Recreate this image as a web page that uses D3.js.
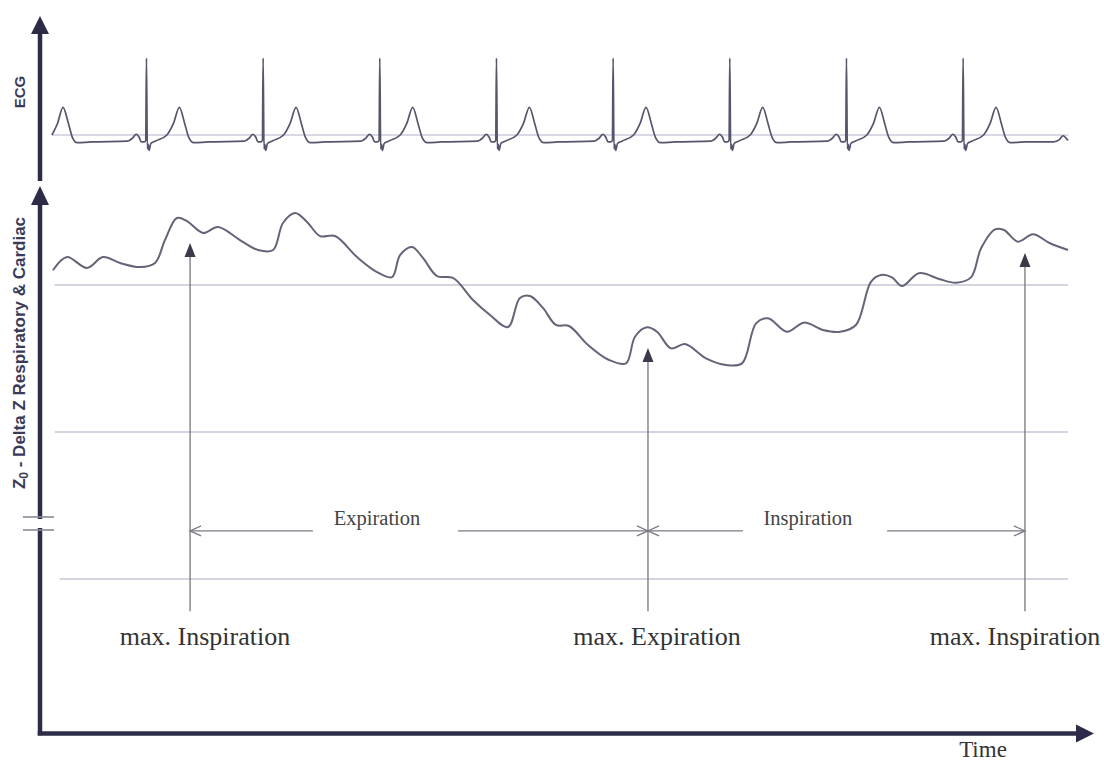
<!DOCTYPE html>
<html>
<head>
<meta charset="utf-8">
<script src="https://cdn.jsdelivr.net/npm/d3@7/dist/d3.min.js"></script>
<style>
  html, body { margin: 0; padding: 0; background: #fff; }
  svg { display: block; }
</style>
</head>
<body>
<svg id="chart" width="1104" height="763"></svg>
<script>
// ---------------- DATA ----------------
// ECG trace: [time in ms, amplitude in mV]
const ecgSamples = [
  [82,0.0],[120,0.15],[158,0.36],[195,0.15],[222,-0.03],[255,-0.10],[350,-0.09],
  [600,-0.08],[635,-0.04],[660,0.01],[680,-0.03],[695,-0.09],[715,-0.09],[725,-0.07],[730,1.0],[736,-0.18],[742,-0.12],[748,-0.2],[760,-0.11],[790,-0.08],[870,0.0],[915,0.15],[956,0.36],[992,0.15],[1020,-0.03],[1055,-0.10],[1150,-0.09],
  [1400,-0.08],[1435,-0.04],[1460,0.01],[1480,-0.03],[1495,-0.09],[1515,-0.09],[1525,-0.07],[1530,1.0],[1536,-0.18],[1542,-0.12],[1548,-0.2],[1560,-0.11],[1590,-0.08],[1670,0.0],[1715,0.15],[1756,0.36],[1792,0.15],[1820,-0.03],[1855,-0.10],[1950,-0.09],
  [2200,-0.08],[2235,-0.04],[2260,0.01],[2280,-0.03],[2295,-0.09],[2315,-0.09],[2325,-0.07],[2330,1.0],[2336,-0.18],[2342,-0.12],[2348,-0.2],[2360,-0.11],[2390,-0.08],[2470,0.0],[2515,0.15],[2556,0.36],[2592,0.15],[2620,-0.03],[2655,-0.10],[2750,-0.09],
  [3000,-0.08],[3035,-0.04],[3060,0.01],[3080,-0.03],[3095,-0.09],[3115,-0.09],[3125,-0.07],[3130,1.0],[3136,-0.18],[3142,-0.12],[3148,-0.2],[3160,-0.11],[3190,-0.08],[3270,0.0],[3315,0.15],[3356,0.36],[3392,0.15],[3420,-0.03],[3455,-0.10],[3550,-0.09],
  [3800,-0.08],[3835,-0.04],[3860,0.01],[3880,-0.03],[3895,-0.09],[3915,-0.09],[3925,-0.07],[3930,1.0],[3936,-0.18],[3942,-0.12],[3948,-0.2],[3960,-0.11],[3990,-0.08],[4070,0.0],[4115,0.15],[4156,0.36],[4192,0.15],[4220,-0.03],[4255,-0.10],[4350,-0.09],
  [4600,-0.08],[4635,-0.04],[4660,0.01],[4680,-0.03],[4695,-0.09],[4715,-0.09],[4725,-0.07],[4730,1.0],[4736,-0.18],[4742,-0.12],[4748,-0.2],[4760,-0.11],[4790,-0.08],[4870,0.0],[4915,0.15],[4956,0.36],[4992,0.15],[5020,-0.03],[5055,-0.10],[5150,-0.09],
  [5400,-0.08],[5435,-0.04],[5460,0.01],[5480,-0.03],[5495,-0.09],[5515,-0.09],[5525,-0.07],[5530,1.0],[5536,-0.18],[5542,-0.12],[5548,-0.2],[5560,-0.11],[5590,-0.08],[5670,0.0],[5715,0.15],[5756,0.36],[5792,0.15],[5820,-0.03],[5855,-0.10],[5950,-0.09],
  [6200,-0.08],[6235,-0.04],[6260,0.01],[6280,-0.03],[6295,-0.09],[6315,-0.09],[6325,-0.07],[6330,1.0],[6336,-0.18],[6342,-0.12],[6348,-0.2],[6360,-0.11],[6390,-0.08],[6470,0.0],[6515,0.15],[6556,0.36],[6592,0.15],[6620,-0.03],[6655,-0.10],[6750,-0.09],
  [6950,-0.09],[6990,-0.06],[7015,-0.01],[7040,-0.05],[7050,-0.07]
];
const ecgBaselineSpan = [82, 7050];

// Z0 - Delta Z respiratory & cardiac trace (time ms, arbitrary units)
const zTimes  = [89,185,322,432,549,686,789,857,939,1008,1118,1221,1371,1495,1598,1666,1749,1831,1920,2023,2174,2311,2414,2469,2551,2626,2722,2832,2969,3086,3209,3291,3360,3449,3538,3627,3758,3902,4018,4080,4162,4231,4327,4423,4567,4704,4814,4910,4992,5122,5239,5369,5486,5595,5698,5767,5842,5911,6027,6171,6281,6384,6453,6549,6610,6706,6809,6926,7049];
const zValues = [10,19,11.6,19,15,12.2,15,30.6,45.6,43.5,35.4,39.5,30.6,23.8,23.8,42.2,49,42.9,33.3,33.3,19,8.8,5.4,20.4,25.9,18.4,6.1,4.8,-10.2,-20.4,-28.6,-8.8,-7.5,-15.6,-27.2,-27.9,-40.8,-51,-53.3,-35.2,-28.8,-31.8,-43.1,-40.1,-49.9,-54.4,-53.3,-26.1,-22.7,-31.8,-25.6,-30.6,-31.8,-27.2,2.2,6.8,5.2,-0.7,8,3.9,1.6,5.2,25,37.9,37.4,29.5,34.5,28.4,23.8];

// reference lines of the Z panel
const zGridLevels = [0, -100, -200];
const zGridSpan = [100, 7049];

// respiratory markers
const markerTimes  = [1029, 4169, 6754];
const markerTipZ   = [28.6, -42.9, 21.8];
const markerLabels = ["max. Inspiration", "max. Expiration", "max. Inspiration"];
const markerLabelTimes = [1131, 4231, 6686];
const markerBottomZ = -222;

// phase arrows between markers
const phaseLabels     = ["Expiration", "Inspiration"];
const phaseLabelTimes = [2311, 5266];
const phaseGapTimes   = [[1872, 2866], [4820, 5808]];
const phaseZ = -167.3;

// ---------------- DRAWING ----------------
const svg = d3.select("#chart");
const axisColor = "#2c2c48";

const x = d3.scaleLinear().domain([0, 7200]).range([40, 1090]);
const yEcg = d3.scaleLinear().domain([0, 1]).range([135, 58]);
const yZ = d3.scaleLinear().domain([0, -200]).range([285, 579]);

// ECG baseline
svg.append("line")
  .attr("x1", x(ecgBaselineSpan[0])).attr("x2", x(ecgBaselineSpan[1]))
  .attr("y1", yEcg(0)).attr("y2", yEcg(0))
  .attr("stroke", "#b4b4c8").attr("stroke-width", 1.2);

// ECG trace
svg.append("path")
  .datum(ecgSamples)
  .attr("fill", "none")
  .attr("stroke", "#55556c")
  .attr("stroke-width", 1.7)
  .attr("stroke-linejoin", "round")
  .attr("d", d3.line().x(d => x(d[0])).y(d => yEcg(d[1])).curve(d3.curveMonotoneX));

// Z grid lines
svg.selectAll("line.zgrid")
  .data(zGridLevels)
  .join("line")
  .attr("class", "zgrid")
  .attr("x1", (d, i) => x(zGridSpan[0]) - (i === 2 ? -5 : 0))
  .attr("x2", x(zGridSpan[1]))
  .attr("y1", d => yZ(d)).attr("y2", d => yZ(d))
  .attr("stroke", "#a9a9c2").attr("stroke-width", 1.2);

// Z trace
const zData = zTimes.map((t, i) => [t, zValues[i]]);
svg.append("path")
  .datum(zData)
  .attr("fill", "none")
  .attr("stroke", "#646478")
  .attr("stroke-width", 2)
  .attr("d", d3.line().x(d => x(d[0])).y(d => yZ(d[1])).curve(d3.curveCatmullRom.alpha(0.5)));

// markers (vertical arrows)
markerTimes.forEach((t, i) => {
  const mx = x(t), tip = yZ(markerTipZ[i]);
  svg.append("line")
    .attr("x1", mx).attr("x2", mx)
    .attr("y1", tip + 10).attr("y2", yZ(markerBottomZ))
    .attr("stroke", "#6a6a74").attr("stroke-width", 1.2);
  svg.append("path")
    .attr("d", `M${mx},${tip} L${mx - 5.5},${tip + 14} L${mx + 5.5},${tip + 14} Z`)
    .attr("fill", "#3a3a48");
  svg.append("text")
    .attr("x", x(markerLabelTimes[i])).attr("y", 645)
    .attr("text-anchor", "middle")
    .attr("font-family", "'Liberation Serif', 'Times New Roman', serif")
    .attr("font-size", 26)
    .attr("fill", "#333")
    .text(markerLabels[i]);
});

// phase arrows
const py = yZ(phaseZ);
phaseLabels.forEach((lab, i) => {
  const a = x(markerTimes[i]), b = x(markerTimes[i + 1]);
  const g1 = x(phaseGapTimes[i][0]), g2 = x(phaseGapTimes[i][1]);
  const st = "#7a7a86";
  svg.append("line").attr("x1", a).attr("x2", g1).attr("y1", py).attr("y2", py)
    .attr("stroke", st).attr("stroke-width", 1.2);
  svg.append("line").attr("x1", g2).attr("x2", b).attr("y1", py).attr("y2", py)
    .attr("stroke", st).attr("stroke-width", 1.2);
  // open arrow heads
  svg.append("path")
    .attr("d", `M${a + 11},${py - 5} L${a},${py} L${a + 11},${py + 5}`)
    .attr("fill", "none").attr("stroke", st).attr("stroke-width", 1.3);
  svg.append("path")
    .attr("d", `M${b - 11},${py - 5} L${b},${py} L${b - 11},${py + 5}`)
    .attr("fill", "none").attr("stroke", st).attr("stroke-width", 1.3);
  svg.append("text")
    .attr("x", x(phaseLabelTimes[i])).attr("y", py - 6)
    .attr("text-anchor", "middle")
    .attr("font-family", "'Liberation Serif', 'Times New Roman', serif")
    .attr("font-size", 20.5)
    .attr("fill", "#444")
    .text(lab);
});

// ---------------- AXES ----------------
const ax = 40;
// ECG axis
svg.append("line").attr("x1", ax).attr("x2", ax).attr("y1", 30).attr("y2", 181)
  .attr("stroke", axisColor).attr("stroke-width", 4.5);
svg.append("path").attr("d", `M${ax},16 L${ax - 9},34 L${ax + 9},34 Z`).attr("fill", axisColor);
// Z axis
svg.append("line").attr("x1", ax).attr("x2", ax).attr("y1", 202).attr("y2", 519)
  .attr("stroke", axisColor).attr("stroke-width", 4.5);
svg.append("path").attr("d", `M${ax},186 L${ax - 9},205 L${ax + 9},205 Z`).attr("fill", axisColor);
// lower part after break
svg.append("line").attr("x1", ax).attr("x2", ax).attr("y1", 528).attr("y2", 735.25)
  .attr("stroke", axisColor).attr("stroke-width", 4.5);
// break marks
[517, 530].forEach(by => {
  svg.append("line").attr("x1", 23).attr("x2", 54).attr("y1", by).attr("y2", by)
    .attr("stroke", "#8a8a98").attr("stroke-width", 1.6);
});
// time axis
svg.append("line").attr("x1", ax - 2.25).attr("x2", 1080).attr("y1", 733.5).attr("y2", 733.5)
  .attr("stroke", axisColor).attr("stroke-width", 4.5);
svg.append("path").attr("d", `M1094,733.5 L1076,724.5 L1076,742.5 Z`).attr("fill", axisColor);

// axis labels
svg.append("text")
  .attr("transform", "translate(24.5,92) rotate(-90)")
  .attr("text-anchor", "middle")
  .attr("font-family", "'Liberation Sans', Arial, sans-serif")
  .attr("font-weight", "bold")
  .attr("font-size", 15)
  .attr("fill", "#3a3a58")
  .text("ECG");

const zl = svg.append("text")
  .attr("transform", "translate(25,353) rotate(-90)")
  .attr("text-anchor", "middle")
  .attr("font-family", "'Liberation Sans', Arial, sans-serif")
  .attr("font-weight", "bold")
  .attr("font-size", 17)
  .attr("fill", "#3a3a58");
zl.append("tspan").text("Z");
zl.append("tspan").attr("font-size", 12).attr("dy", 3).text("0");
zl.append("tspan").attr("dy", -3).text(" - Delta Z Respiratory & Cardiac");

svg.append("text")
  .attr("x", 983).attr("y", 757)
  .attr("text-anchor", "middle")
  .attr("font-family", "'Liberation Serif', 'Times New Roman', serif")
  .attr("font-size", 23)
  .attr("fill", "#333")
  .text("Time");
</script>
</body>
</html>
